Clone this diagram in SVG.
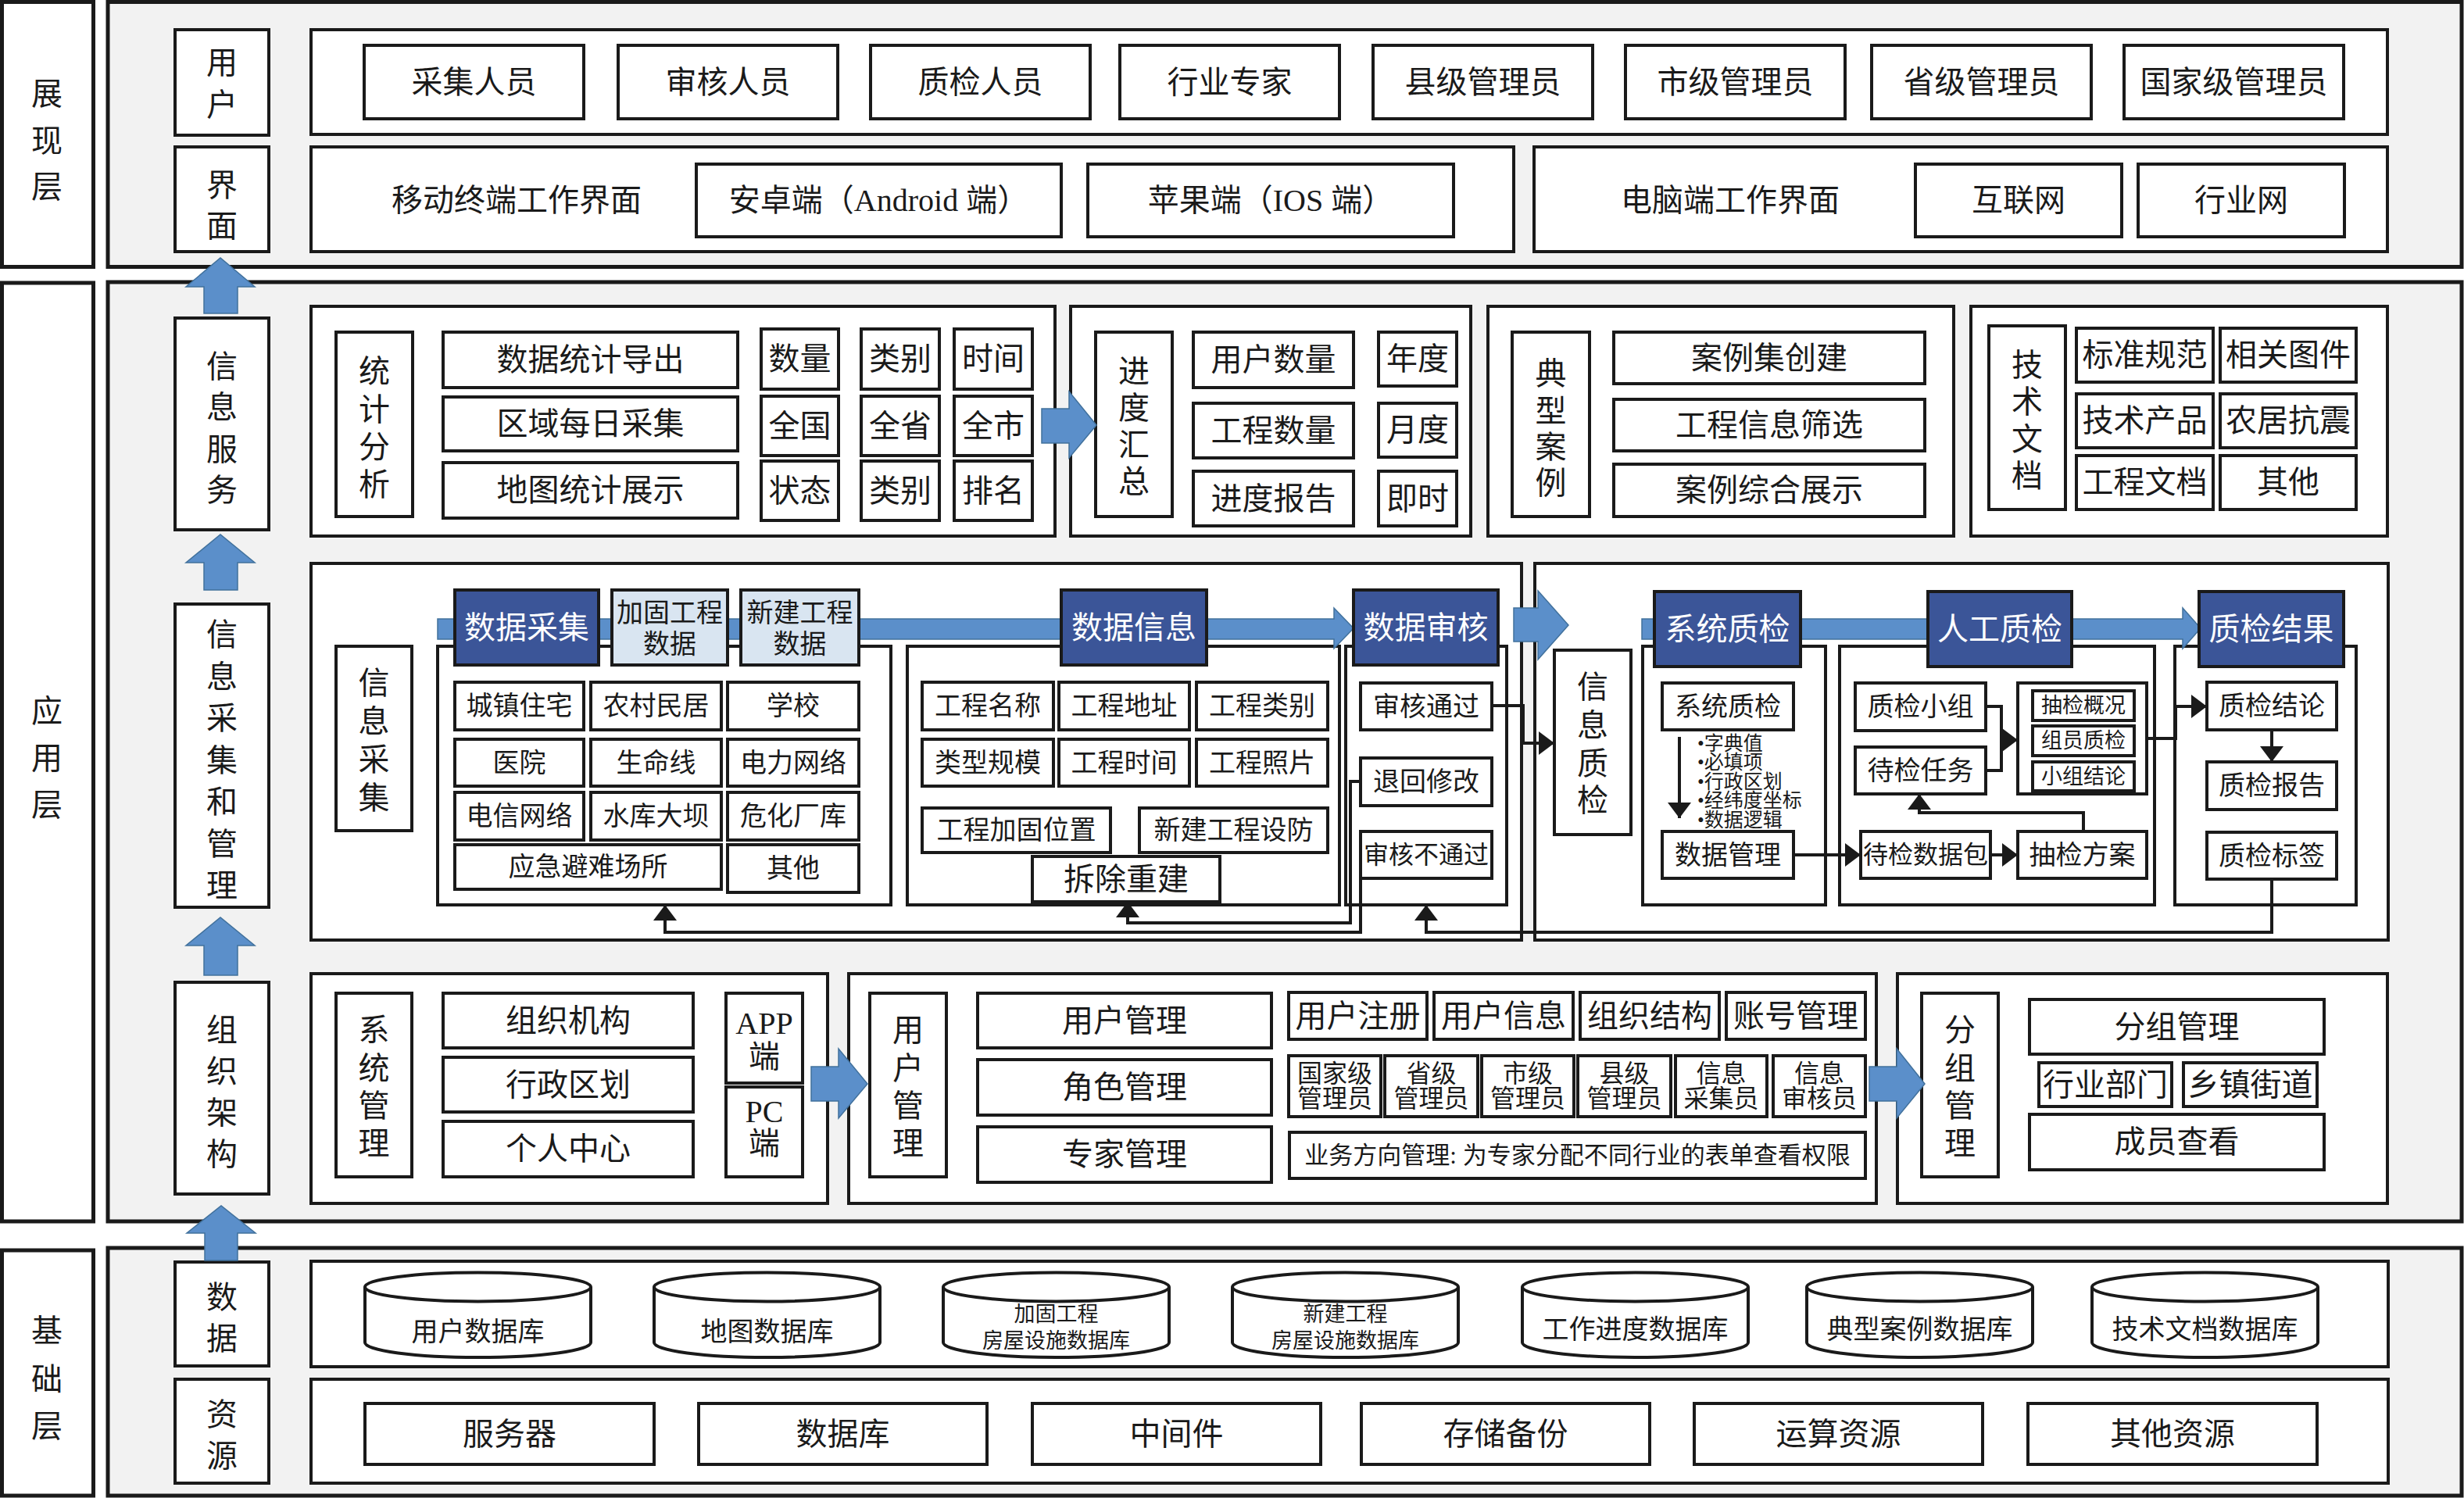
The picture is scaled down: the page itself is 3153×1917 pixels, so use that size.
<svg xmlns="http://www.w3.org/2000/svg" width="3153" height="1917" viewBox="0 0 3153 1917">
<style>
.bg{fill:#ffffff}
.panel{fill:#f2f2f2;stroke:#1a1a1a;stroke-width:5}
.lbl{fill:#ffffff;stroke:#1a1a1a;stroke-width:5}
.box{fill:#ffffff;stroke:#1a1a1a;stroke-width:4}
.dark{fill:#3b5598;stroke:#1a1a1a;stroke-width:4}
.light{fill:#d9e5f1;stroke:#1a1a1a;stroke-width:4}
.blue{fill:#5b8fca;stroke:#41719c;stroke-width:1.5}
.conn{fill:none;stroke:#1a1a1a;stroke-width:4}
.t{font-family:"Liberation Serif","Noto Sans CJK SC",serif;font-size:40px;fill:#1a1a1a;text-anchor:middle;dominant-baseline:central}
.w{fill:#ffffff}
.s34{font-size:34px}
.s32{font-size:32px}
.s31{font-size:31px}
.s27{font-size:27px}
.s25{font-size:25px;text-anchor:start}
</style>
<defs>
<marker id="ah" viewBox="0 0 20 30" refX="20" refY="15" markerWidth="20" markerHeight="30" markerUnits="userSpaceOnUse" orient="auto">
<path d="M0,0 L20,15 L0,30 Z" fill="#1a1a1a"/>
</marker>
<path id="cyl" d="M0,0 A144.5,18.5 0 0 1 289,0 V71 A144.5,19 0 0 1 0,71 Z M0,0 A144.5,18.5 0 0 0 289,0"/>
</defs>
<rect class="bg" x="0" y="0" width="3153" height="1917"/>

<!-- ===== Presentation layer ===== -->
<g id="layer-presentation">
<rect class="lbl" x="2.5" y="2.5" width="117" height="339"/>
<text class="t"><tspan x="60" y="120">展</tspan><tspan x="60" y="180">现</tspan><tspan x="60" y="239">层</tspan></text>
<rect class="panel" x="138" y="2.5" width="3012" height="339"/>
</g>
<g id="col-user">
<rect class="box" x="224" y="38" width="120" height="135"/>
<text class="t"><tspan x="284" y="80">用</tspan><tspan x="284" y="134">户</tspan></text>
</g>
<g id="col-ui">
<rect class="box" x="224" y="188" width="120" height="134"/>
<text class="t"><tspan x="284" y="237">界</tspan><tspan x="284" y="289">面</tspan></text>
</g>
<g id="users">
<rect class="box" x="398" y="38" width="2657" height="134"/>
<rect class="box" x="466" y="58" width="281" height="94"/><text class="t" x="606.5" y="105">采集人员</text>
<rect class="box" x="791" y="58" width="281" height="94"/><text class="t" x="931.5" y="105">审核人员</text>
<rect class="box" x="1114" y="58" width="281" height="94"/><text class="t" x="1254.5" y="105">质检人员</text>
<rect class="box" x="1433" y="58" width="281" height="94"/><text class="t" x="1573.5" y="105">行业专家</text>
<rect class="box" x="1757" y="58" width="281" height="94"/><text class="t" x="1897.5" y="105">县级管理员</text>
<rect class="box" x="2080" y="58" width="281" height="94"/><text class="t" x="2220.5" y="105">市级管理员</text>
<rect class="box" x="2395" y="58" width="281" height="94"/><text class="t" x="2535.5" y="105">省级管理员</text>
<rect class="box" x="2718" y="58" width="281" height="94"/><text class="t" x="2858.5" y="105">国家级管理员</text>
</g>
<g id="ui-mobile">
<rect class="box" x="398" y="188" width="1539" height="134"/>
<text class="t" x="661" y="256">移动终端工作界面</text>
<rect class="box" x="891" y="210" width="467" height="93"/><text class="t" x="1124.5" y="256.5">安卓端（Android 端）</text>
<rect class="box" x="1392" y="210" width="468" height="93"/><text class="t" x="1626" y="256.5">苹果端（IOS 端）</text>
</g>
<g id="ui-pc">
<rect class="box" x="1963" y="188" width="1092" height="134"/>
<text class="t" x="2214" y="256">电脑端工作界面</text>
<rect class="box" x="2451" y="210" width="264" height="93"/><text class="t" x="2583" y="256.5">互联网</text>
<rect class="box" x="2736" y="210" width="264" height="93"/><text class="t" x="2868" y="256.5">行业网</text>
</g>

<!-- ===== Application layer ===== -->
<g id="layer-application">
<rect class="lbl" x="2.5" y="362" width="117" height="1201"/>
<text class="t"><tspan x="60" y="910">应</tspan><tspan x="60" y="970">用</tspan><tspan x="60" y="1030">层</tspan></text>
<rect class="panel" x="138" y="361" width="3012" height="1202"/>
</g>
<g id="col-info-service">
<rect class="box" x="224" y="407" width="120" height="271"/>
<text class="t"><tspan x="284" y="469">信</tspan><tspan x="284" y="521">息</tspan><tspan x="284" y="575">服</tspan><tspan x="284" y="627">务</tspan></text>
</g>
<g id="col-info-collect">
<rect class="box" x="224" y="773" width="120" height="388"/>
<text class="t"><tspan x="284" y="812">信</tspan><tspan x="284" y="866">息</tspan><tspan x="284" y="919">采</tspan><tspan x="284" y="973">集</tspan><tspan x="284" y="1026">和</tspan><tspan x="284" y="1080">管</tspan><tspan x="284" y="1133">理</tspan></text>
</g>
<g id="col-org">
<rect class="box" x="224" y="1257" width="120" height="271"/>
<text class="t"><tspan x="284" y="1318">组</tspan><tspan x="284" y="1371">织</tspan><tspan x="284" y="1424">架</tspan><tspan x="284" y="1477">构</tspan></text>
</g>

<g id="stat-analysis">
<rect class="box" x="398" y="392" width="952" height="294"/>
<rect class="box" x="430" y="425" width="98" height="236"/>
<text class="t"><tspan x="479" y="475">统</tspan><tspan x="479" y="524">计</tspan><tspan x="479" y="572">分</tspan><tspan x="479" y="620">析</tspan></text>
<rect class="box" x="567" y="425" width="377" height="71"/><text class="t" x="755.5" y="460.5">数据统计导出</text>
<rect class="box" x="567" y="508" width="377" height="69"/><text class="t" x="755.5" y="542.5">区域每日采集</text>
<rect class="box" x="567" y="592" width="377" height="71"/><text class="t" x="755.5" y="627.5">地图统计展示</text>
<rect class="box" x="974" y="421" width="99" height="77"/><text class="t" x="1023.5" y="459.5">数量</text>
<rect class="box" x="974" y="507" width="99" height="76"/><text class="t" x="1023.5" y="545">全国</text>
<rect class="box" x="974" y="590" width="99" height="76"/><text class="t" x="1023.5" y="628">状态</text>
<rect class="box" x="1102" y="421" width="100" height="77"/><text class="t" x="1152" y="459.5">类别</text>
<rect class="box" x="1102" y="507" width="100" height="76"/><text class="t" x="1152" y="545">全省</text>
<rect class="box" x="1102" y="590" width="100" height="76"/><text class="t" x="1152" y="628">类别</text>
<rect class="box" x="1221" y="421" width="100" height="77"/><text class="t" x="1271" y="459.5">时间</text>
<rect class="box" x="1221" y="507" width="100" height="76"/><text class="t" x="1271" y="545">全市</text>
<rect class="box" x="1221" y="590" width="100" height="76"/><text class="t" x="1271" y="628">排名</text>
</g>
<g id="progress-summary">
<rect class="box" x="1370" y="392" width="512" height="294"/>
<rect class="box" x="1402" y="425" width="98" height="236"/>
<text class="t"><tspan x="1451" y="475">进</tspan><tspan x="1451" y="522">度</tspan><tspan x="1451" y="569">汇</tspan><tspan x="1451" y="616">总</tspan></text>
<rect class="box" x="1527" y="425" width="205" height="71"/><text class="t" x="1629.5" y="460.5">用户数量</text>
<rect class="box" x="1527" y="516" width="205" height="70"/><text class="t" x="1629.5" y="551">工程数量</text>
<rect class="box" x="1527" y="603" width="205" height="70"/><text class="t" x="1629.5" y="638">进度报告</text>
<rect class="box" x="1764" y="425" width="100" height="69"/><text class="t" x="1814" y="459.5">年度</text>
<rect class="box" x="1764" y="516" width="100" height="69"/><text class="t" x="1814" y="550.5">月度</text>
<rect class="box" x="1764" y="603" width="100" height="70"/><text class="t" x="1814" y="638">即时</text>
</g>
<g id="typical-cases">
<rect class="box" x="1904" y="392" width="596" height="294"/>
<rect class="box" x="1935" y="425" width="99" height="236"/>
<text class="t"><tspan x="1984.5" y="478">典</tspan><tspan x="1984.5" y="526">型</tspan><tspan x="1984.5" y="572">案</tspan><tspan x="1984.5" y="618">例</tspan></text>
<rect class="box" x="2065" y="425" width="398" height="66"/><text class="t" x="2264" y="458">案例集创建</text>
<rect class="box" x="2065" y="511" width="398" height="66"/><text class="t" x="2264" y="544">工程信息筛选</text>
<rect class="box" x="2065" y="594" width="398" height="67"/><text class="t" x="2264" y="627.5">案例综合展示</text>
</g>
<g id="tech-docs">
<rect class="box" x="2522" y="392" width="533" height="294"/>
<rect class="box" x="2545" y="417" width="98" height="235"/>
<text class="t"><tspan x="2594" y="467">技</tspan><tspan x="2594" y="514">术</tspan><tspan x="2594" y="562">文</tspan><tspan x="2594" y="609">档</tspan></text>
<rect class="box" x="2657" y="420" width="175" height="69"/><text class="t" x="2744.5" y="454.5">标准规范</text>
<rect class="box" x="2841" y="420" width="174" height="69"/><text class="t" x="2928" y="454.5">相关图件</text>
<rect class="box" x="2657" y="504" width="175" height="69"/><text class="t" x="2744.5" y="538.5">技术产品</text>
<rect class="box" x="2841" y="504" width="174" height="69"/><text class="t" x="2928" y="538.5">农居抗震</text>
<rect class="box" x="2657" y="583" width="175" height="69"/><text class="t" x="2744.5" y="617.5">工程文档</text>
<rect class="box" x="2841" y="583" width="174" height="69"/><text class="t" x="2928" y="617.5">其他</text>
</g>

<g id="info-collection">
<rect class="box" x="398" y="721" width="1549" height="482"/>
<rect class="box" x="430" y="827" width="97" height="236"/>
<text class="t"><tspan x="478.5" y="874">信</tspan><tspan x="478.5" y="923">息</tspan><tspan x="478.5" y="972">采</tspan><tspan x="478.5" y="1021">集</tspan></text>
<rect class="box" x="560" y="827" width="580" height="331"/>
<rect class="box" x="1161" y="827" width="553" height="331"/>
<rect class="box" x="1722" y="827" width="206" height="331"/>
<path class="blue" d="M560,792 H1707 V778 L1732,804 L1707,830 V818 H560 Z"/>
</g>
<g id="data-collect">
<rect class="dark" x="582" y="755" width="184" height="96"/><text class="t w" x="674" y="803">数据采集</text>
<rect class="light" x="783" y="755" width="148" height="96"/><text class="t s34"><tspan x="857" y="784">加固工程</tspan><tspan x="857" y="824">数据</tspan></text>
<rect class="light" x="948" y="755" width="151" height="96"/><text class="t s34"><tspan x="1023.5" y="784">新建工程</tspan><tspan x="1023.5" y="824">数据</tspan></text>
<rect class="box" x="582" y="873" width="165" height="61"/><text class="t s34" x="664.5" y="903.5">城镇住宅</text>
<rect class="box" x="756" y="873" width="167" height="61"/><text class="t s34" x="839.5" y="903.5">农村民居</text>
<rect class="box" x="931" y="873" width="168" height="61"/><text class="t s34" x="1015" y="903.5">学校</text>
<rect class="box" x="582" y="946" width="165" height="60"/><text class="t s34" x="664.5" y="976">医院</text>
<rect class="box" x="756" y="946" width="167" height="60"/><text class="t s34" x="839.5" y="976">生命线</text>
<rect class="box" x="931" y="946" width="168" height="60"/><text class="t s34" x="1015" y="976">电力网络</text>
<rect class="box" x="582" y="1014" width="165" height="61"/><text class="t s34" x="664.5" y="1044.5">电信网络</text>
<rect class="box" x="756" y="1014" width="167" height="61"/><text class="t s34" x="839.5" y="1044.5">水库大坝</text>
<rect class="box" x="931" y="1014" width="168" height="61"/><text class="t s34" x="1015" y="1044.5">危化厂库</text>
<rect class="box" x="582" y="1081" width="341" height="57"/><text class="t s34" x="752.5" y="1109.5">应急避难场所</text>
<rect class="box" x="931" y="1081" width="168" height="61"/><text class="t s34" x="1015" y="1111.5">其他</text>
</g>
<g id="data-info">
<rect class="dark" x="1358" y="755" width="186" height="96"/><text class="t w" x="1451" y="803">数据信息</text>
<rect class="box" x="1180" y="873" width="168" height="61"/><text class="t s34" x="1264" y="903.5">工程名称</text>
<rect class="box" x="1355" y="873" width="167" height="61"/><text class="t s34" x="1438.5" y="903.5">工程地址</text>
<rect class="box" x="1531" y="873" width="168" height="61"/><text class="t s34" x="1615" y="903.5">工程类别</text>
<rect class="box" x="1180" y="946" width="168" height="60"/><text class="t s34" x="1264" y="976">类型规模</text>
<rect class="box" x="1355" y="946" width="167" height="60"/><text class="t s34" x="1438.5" y="976">工程时间</text>
<rect class="box" x="1531" y="946" width="168" height="60"/><text class="t s34" x="1615" y="976">工程照片</text>
<rect class="box" x="1180" y="1034" width="241" height="57"/><text class="t s34" x="1300.5" y="1062.5">工程加固位置</text>
<rect class="box" x="1458" y="1034" width="241" height="57"/><text class="t s34" x="1578.5" y="1062.5">新建工程设防</text>
<rect class="box" x="1321" y="1096" width="240" height="58"/><text class="t" x="1441" y="1125">拆除重建</text>
</g>
<g id="data-audit">
<rect class="dark" x="1732" y="755" width="185" height="96"/><text class="t w" x="1824.5" y="803">数据审核</text>
<rect class="box" x="1741" y="874" width="168" height="60"/><text class="t s34" x="1825" y="904">审核通过</text>
<rect class="box" x="1741" y="970" width="168" height="61"/><text class="t s34" x="1825" y="1000.5">退回修改</text>
<rect class="box" x="1741" y="1064" width="168" height="60"/><text class="t s32" x="1825" y="1094">审核不通过</text>
</g>

<g id="quality-check">
<rect class="box" x="1964" y="721" width="1092" height="482"/>
<rect class="box" x="1989" y="832" width="98" height="236"/>
<text class="t"><tspan x="2038" y="879">信</tspan><tspan x="2038" y="928">息</tspan><tspan x="2038" y="977">质</tspan><tspan x="2038" y="1024">检</tspan></text>
<rect class="box" x="2102" y="827" width="234" height="331"/>
<rect class="box" x="2354" y="827" width="403" height="331"/>
<rect class="box" x="2783" y="827" width="232" height="331"/>
<path class="blue" d="M2101,792 H2793 V778 L2816,804 L2793,830 V818 H2101 Z"/>
</g>
<g id="sys-qc">
<rect class="dark" x="2117" y="757" width="187" height="96"/><text class="t w" x="2210.5" y="805">系统质检</text>
<rect class="box" x="2127" y="874" width="168" height="60"/><text class="t s34" x="2211" y="904">系统质检</text>
<rect class="box" x="2127" y="1064" width="168" height="60"/><text class="t s34" x="2211" y="1094">数据管理</text>
<text class="t s25"><tspan x="2172" y="951">•字典值</tspan><tspan x="2172" y="975">•必填项</tspan><tspan x="2172" y="1000">•行政区划</tspan><tspan x="2172" y="1024">•经纬度坐标</tspan><tspan x="2172" y="1049">•数据逻辑</tspan></text>
</g>
<g id="manual-qc">
<rect class="dark" x="2467" y="757" width="184" height="96"/><text class="t w" x="2559" y="805">人工质检</text>
<rect class="box" x="2374" y="874" width="167" height="61"/><text class="t s34" x="2457.5" y="904.5">质检小组</text>
<rect class="box" x="2374" y="956" width="167" height="60"/><text class="t s34" x="2457.5" y="986">待检任务</text>
<rect class="box" x="2582" y="874" width="165" height="142"/>
<rect class="box" x="2601" y="884" width="130" height="38"/><text class="t s27" x="2666" y="903">抽检概况</text>
<rect class="box" x="2601" y="929" width="130" height="38"/><text class="t s27" x="2666" y="948">组员质检</text>
<rect class="box" x="2601" y="975" width="130" height="37"/><text class="t s27" x="2666" y="993.5">小组结论</text>
<rect class="box" x="2381" y="1064" width="166" height="60"/><text class="t s32" x="2464" y="1094">待检数据包</text>
<rect class="box" x="2582" y="1064" width="165" height="60"/><text class="t s34" x="2664.5" y="1094">抽检方案</text>
</g>
<g id="qc-result">
<rect class="dark" x="2814" y="757" width="185" height="96"/><text class="t w" x="2906.5" y="805">质检结果</text>
<rect class="box" x="2824" y="873" width="166" height="61"/><text class="t s34" x="2907" y="903.5">质检结论</text>
<rect class="box" x="2824" y="975" width="166" height="61"/><text class="t s34" x="2907" y="1005.5">质检报告</text>
<rect class="box" x="2824" y="1065" width="166" height="60"/><text class="t s34" x="2907" y="1095">质检标签</text>
</g>

<g id="system-mgmt">
<rect class="box" x="398" y="1246" width="661" height="294"/>
<rect class="box" x="430" y="1271" width="97" height="235"/>
<text class="t"><tspan x="478.5" y="1318">系</tspan><tspan x="478.5" y="1367">统</tspan><tspan x="478.5" y="1415">管</tspan><tspan x="478.5" y="1463">理</tspan></text>
<rect class="box" x="567" y="1271" width="320" height="70"/><text class="t" x="727" y="1306">组织机构</text>
<rect class="box" x="567" y="1353" width="320" height="70"/><text class="t" x="727" y="1388">行政区划</text>
<rect class="box" x="567" y="1435" width="320" height="71"/><text class="t" x="727" y="1470.5">个人中心</text>
<rect class="box" x="929" y="1271" width="98" height="115"/><text class="t"><tspan x="978" y="1309">APP</tspan><tspan x="978" y="1352">端</tspan></text>
<rect class="box" x="929" y="1391" width="98" height="115"/><text class="t"><tspan x="978" y="1422">PC</tspan><tspan x="978" y="1463">端</tspan></text>
</g>
<g id="user-mgmt">
<rect class="box" x="1086" y="1246" width="1315" height="294"/>
<rect class="box" x="1113" y="1271" width="98" height="235"/>
<text class="t"><tspan x="1162" y="1318">用</tspan><tspan x="1162" y="1367">户</tspan><tspan x="1162" y="1415">管</tspan><tspan x="1162" y="1463">理</tspan></text>
<rect class="box" x="1251" y="1271" width="376" height="70"/><text class="t" x="1439" y="1306">用户管理</text>
<rect class="box" x="1251" y="1356" width="376" height="71"/><text class="t" x="1439" y="1391.5">角色管理</text>
<rect class="box" x="1251" y="1442" width="376" height="71"/><text class="t" x="1439" y="1477.5">专家管理</text>
<rect class="box" x="1649" y="1270" width="177" height="60"/><text class="t" x="1737.5" y="1300">用户注册</text>
<rect class="box" x="1835" y="1270" width="178" height="60"/><text class="t" x="1924" y="1300">用户信息</text>
<rect class="box" x="2022" y="1270" width="178" height="60"/><text class="t" x="2111" y="1300">组织结构</text>
<rect class="box" x="2209" y="1270" width="178" height="60"/><text class="t" x="2298" y="1300">账号管理</text>
<rect class="box" x="1649" y="1351" width="118" height="78"/><text class="t s32"><tspan x="1708" y="1374">国家级</tspan><tspan x="1708" y="1406">管理员</tspan></text>
<rect class="box" x="1772" y="1351" width="119" height="78"/><text class="t s32"><tspan x="1831.5" y="1374">省级</tspan><tspan x="1831.5" y="1406">管理员</tspan></text>
<rect class="box" x="1896" y="1351" width="118" height="78"/><text class="t s32"><tspan x="1955" y="1374">市级</tspan><tspan x="1955" y="1406">管理员</tspan></text>
<rect class="box" x="2019" y="1351" width="119" height="78"/><text class="t s32"><tspan x="2078.5" y="1374">县级</tspan><tspan x="2078.5" y="1406">管理员</tspan></text>
<rect class="box" x="2144" y="1351" width="117" height="78"/><text class="t s32"><tspan x="2202.5" y="1374">信息</tspan><tspan x="2202.5" y="1406">采集员</tspan></text>
<rect class="box" x="2269" y="1351" width="118" height="78"/><text class="t s32"><tspan x="2328" y="1374">信息</tspan><tspan x="2328" y="1406">审核员</tspan></text>
<rect class="box" x="1650" y="1449" width="737" height="59"/><text class="t s31" x="2018.5" y="1478.5">业务方向管理: 为专家分配不同行业的表单查看权限</text>
</g>
<g id="group-mgmt">
<rect class="box" x="2428" y="1246" width="627" height="294"/>
<rect class="box" x="2459" y="1271" width="98" height="235"/>
<text class="t"><tspan x="2508" y="1318">分</tspan><tspan x="2508" y="1367">组</tspan><tspan x="2508" y="1415">管</tspan><tspan x="2508" y="1463">理</tspan></text>
<rect class="box" x="2597" y="1279" width="377" height="70"/><text class="t" x="2785.5" y="1314">分组管理</text>
<rect class="box" x="2609" y="1360" width="170" height="56"/><text class="t" x="2694" y="1388">行业部门</text>
<rect class="box" x="2794" y="1360" width="171" height="56"/><text class="t" x="2879.5" y="1388">乡镇街道</text>
<rect class="box" x="2597" y="1426" width="377" height="71"/><text class="t" x="2785.5" y="1461.5">成员查看</text>
</g>

<!-- ===== Base layer ===== -->
<g id="layer-base">
<rect class="lbl" x="2.5" y="1600" width="117" height="314"/>
<text class="t"><tspan x="60" y="1703">基</tspan><tspan x="60" y="1765">础</tspan><tspan x="60" y="1825">层</tspan></text>
<rect class="panel" x="138" y="1597" width="3012" height="317"/>
</g>
<g id="col-data">
<rect class="box" x="224" y="1615" width="120" height="133"/>
<text class="t"><tspan x="284" y="1660">数</tspan><tspan x="284" y="1713">据</tspan></text>
</g>
<g id="col-resource">
<rect class="box" x="224" y="1765" width="120" height="133"/>
<text class="t"><tspan x="284" y="1810">资</tspan><tspan x="284" y="1863">源</tspan></text>
</g>
<g id="databases">
<rect class="box" x="398" y="1614" width="2658" height="135"/>
<use href="#cyl" class="box" x="467" y="1647"/><text class="t s34" x="611.5" y="1704">用户数据库</text>
<use href="#cyl" class="box" x="837" y="1647"/><text class="t s34" x="981.5" y="1704">地图数据库</text>
<use href="#cyl" class="box" x="1207" y="1647"/><text class="t s27"><tspan x="1351.5" y="1682">加固工程</tspan><tspan x="1351.5" y="1716">房屋设施数据库</tspan></text>
<use href="#cyl" class="box" x="1577" y="1647"/><text class="t s27"><tspan x="1721.5" y="1682">新建工程</tspan><tspan x="1721.5" y="1716">房屋设施数据库</tspan></text>
<use href="#cyl" class="box" x="1948" y="1647"/><text class="t s34" x="2092.5" y="1701">工作进度数据库</text>
<use href="#cyl" class="box" x="2312" y="1647"/><text class="t s34" x="2456.5" y="1701">典型案例数据库</text>
<use href="#cyl" class="box" x="2677" y="1647"/><text class="t s34" x="2821.5" y="1701">技术文档数据库</text>
</g>
<g id="resources">
<rect class="box" x="398" y="1765" width="2658" height="133"/>
<rect class="box" x="467" y="1796" width="370" height="78"/><text class="t" x="652" y="1835">服务器</text>
<rect class="box" x="894" y="1796" width="369" height="78"/><text class="t" x="1078.5" y="1835">数据库</text>
<rect class="box" x="1321" y="1796" width="369" height="78"/><text class="t" x="1505.5" y="1835">中间件</text>
<rect class="box" x="1742" y="1796" width="369" height="78"/><text class="t" x="1926.5" y="1835">存储备份</text>
<rect class="box" x="2168" y="1796" width="369" height="78"/><text class="t" x="2352.5" y="1835">运算资源</text>
<rect class="box" x="2595" y="1796" width="370" height="78"/><text class="t" x="2780" y="1835">其他资源</text>
</g>

<!-- ===== Connectors ===== -->
<g id="connectors">
<path class="blue" d="M261,401 V367 H238 L282,330 L326,367 H304 V401 Z"/>
<path class="blue" d="M261,755 V720 H238 L282,684 L326,720 H304 V755 Z"/>
<path class="blue" d="M261,1248 V1210 H238 L282,1174 L326,1210 H304 V1248 Z"/>
<path class="blue" d="M262,1613 V1578 H239 L283,1543 L327,1578 H304 V1613 Z"/>
<path class="blue" d="M1333,523 H1368 V501 L1403,544 L1368,586 V567 H1333 Z"/>
<path class="blue" d="M1937,778 H1968 V756 L2007,800 L1968,844 V821 H1937 Z"/>
<path class="blue" d="M1038,1365 H1073 V1342 L1110,1387 L1073,1431 V1409 H1038 Z"/>
<path class="blue" d="M2392,1365 H2427 V1342 L2463,1387 L2427,1431 V1409 H2392 Z"/>
<path class="conn" d="M1909,903 H1949 V951 H1989" marker-end="url(#ah)"/>
<path class="conn" d="M1741,1000 H1728 V1181 H1443 V1154" marker-end="url(#ah)"/>
<path class="conn" d="M1741,1124 V1193 H851 V1158" marker-end="url(#ah)"/>
<path class="conn" d="M2907,1125 V1193 H1825 V1158" marker-end="url(#ah)"/>
<path class="conn" d="M2149,943 V1047" marker-end="url(#ah)"/>
<path class="conn" d="M2295,1094 H2381" marker-end="url(#ah)"/>
<path class="conn" d="M2547,1094 H2582" marker-end="url(#ah)"/>
<path class="conn" d="M2666,1064 V1040 H2456 V1016" marker-end="url(#ah)"/>
<path class="conn" d="M2541,904 H2561 V986 H2541"/>
<path class="conn" d="M2561,947 H2582" marker-end="url(#ah)"/>
<path class="conn" d="M2747,945 H2784 V904 H2824" marker-end="url(#ah)"/>
<path class="conn" d="M2907,934 V975" marker-end="url(#ah)"/>
</g>
</svg>
